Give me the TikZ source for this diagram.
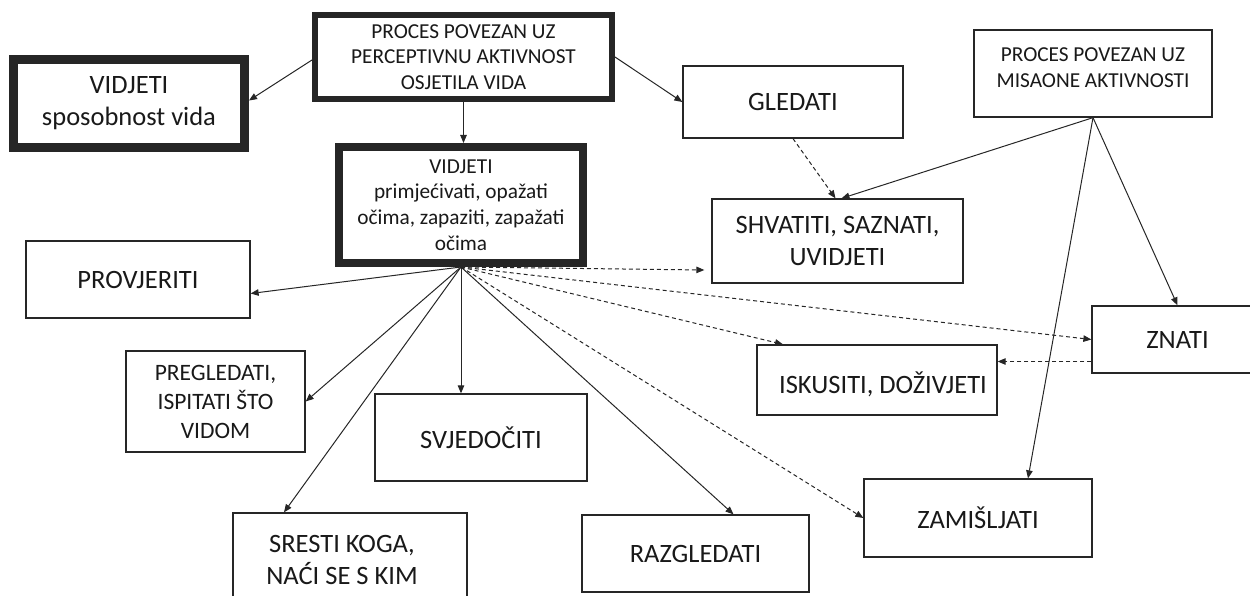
\documentclass[tikz,border=0pt]{standalone}
\usepackage{fontspec}
\setmainfont{Carlito}
\usetikzlibrary{arrows.meta}
\newcommand\fbig{\fontsize{26.5pt}{32pt}\selectfont}
\newcommand\fsmall{\fontsize{21.3pt}{25.7pt}\selectfont}
\newcommand\fmid{\fontsize{23.5pt}{29pt}\selectfont}
\tikzset{
  box/.style={draw=black!85, line width=1.3pt, inner sep=0pt, align=center, font=\fbig, fill=white, text=black!90},
  conn/.style={-{Triangle[length=8pt,width=6.5pt]}, line width=1pt, draw=black!85},
  dconn/.style={conn, dash pattern=on 4pt off 3pt},
}
\begin{document}
\begin{tikzpicture}[x=1pt,y=-1pt]
\useasboundingbox (0,0) rectangle (1250,596);
% boxes
\node[box, line width=6pt, font=\fsmall, minimum width=297pt, minimum height=84pt] (top) at (463.5,57)
  {PROCES POVEZAN UZ\\PERCEPTIVNU AKTIVNOST\\OSJETILA VIDA};
\node[box, line width=9pt, minimum width=231pt, minimum height=88pt] (spos) at (129,103.5)
  {VIDJETI\\sposobnost vida};
\node[box, line width=8pt, font=\fsmall, minimum width=244pt, minimum height=116pt] (vid) at (461,205)
  {VIDJETI\\primjećivati, opažati\\očima, zapaziti, zapažati\\očima};
\node[box, minimum width=220pt, minimum height=72pt] (gled) at (793,102) {GLEDATI};
\node[box, minimum width=238pt, minimum height=87pt,
  label={[font=\fsmall, align=center, text=black!90, yshift=6pt]center:{PROCES POVEZAN UZ\\MISAONE AKTIVNOSTI}}] (mis) at (1093,73.5) {};
\node[box, minimum width=251pt, minimum height=84pt] (shv) at (837.5,241) {SHVATITI, SAZNATI,\\UVIDJETI};
\node[box, minimum width=224pt, minimum height=77pt] (prov) at (138,279.5) {PROVJERITI};
\node[box, font=\fmid, minimum width=179pt, minimum height=101pt] (preg) at (215.5,401.5)
  {PREGLEDATI,\\ISPITATI ŠTO\\VIDOM};
\node[box, minimum width=212pt, minimum height=87pt] (svj) at (481,437.5) {SVJEDOČITI};
\node[box, minimum width=234pt, minimum height=93pt,
  label={[font=\fbig, align=center, text=black!90, xshift=-8pt]center:{SRESTI KOGA,\\NAĆI SE S KIM}}] (sre) at (350,559.5) {};
\node[box, minimum width=227pt, minimum height=77pt] (raz) at (695.5,553.5) {RAZGLEDATI};
\node[box, minimum width=240pt, minimum height=70pt,
  label={[font=\fbig, align=center, text=black!90, xshift=6pt, yshift=-4pt]center:{ISKUSITI, DOŽIVJETI}}] (isk) at (877,380) {};
\node[box, minimum width=171pt, minimum height=67pt] (zna) at (1177.5,339.5) {ZNATI};
\node[box, minimum width=228pt, minimum height=78pt] (zam) at (978,518) {ZAMIŠLJATI};
% connectors from the top box
\draw[conn] ([yshift=-3pt]top.west) -- ([yshift=3pt]spos.east);
\draw[conn] (top.south) -- (top.south |- vid.north);
\draw[conn] (top.east) -- (gled.west);
\draw[dconn] (gled.south) -- ([xshift=-2pt]shv.north);
% from the thought-process box
\draw[conn] (mis.south) -- ([xshift=4pt]shv.north);
\draw[conn] (mis.south) -- (zna.north);
\draw[conn] (mis.south) -- ([xshift=50pt]zam.north);
% from VIDJETI (centre)
\draw[conn] (vid.south) -- ([yshift=-14pt]prov.east);
\draw[conn] (vid.south) -- (preg.east);
\draw[conn] (vid.south) -- (vid.south |- svj.north);
\draw[conn] (vid.south) -- ([xshift=-66pt]sre.north);
\draw[conn] (vid.south) -- ([xshift=38pt]raz.north);
\draw[dconn] (vid.south) -- ([xshift=-7pt,yshift=-29pt]shv.west);
\draw[dconn] (vid.south) -- (zna.west);
\draw[dconn] (vid.south) -- ([xshift=-94pt]isk.north);
\draw[dconn] (vid.south) -- (zam.west);
\draw[dconn] ([yshift=-22pt]zna.west) -- ([yshift=-22pt]zna.west -| isk.east);
\end{tikzpicture}
\end{document}
